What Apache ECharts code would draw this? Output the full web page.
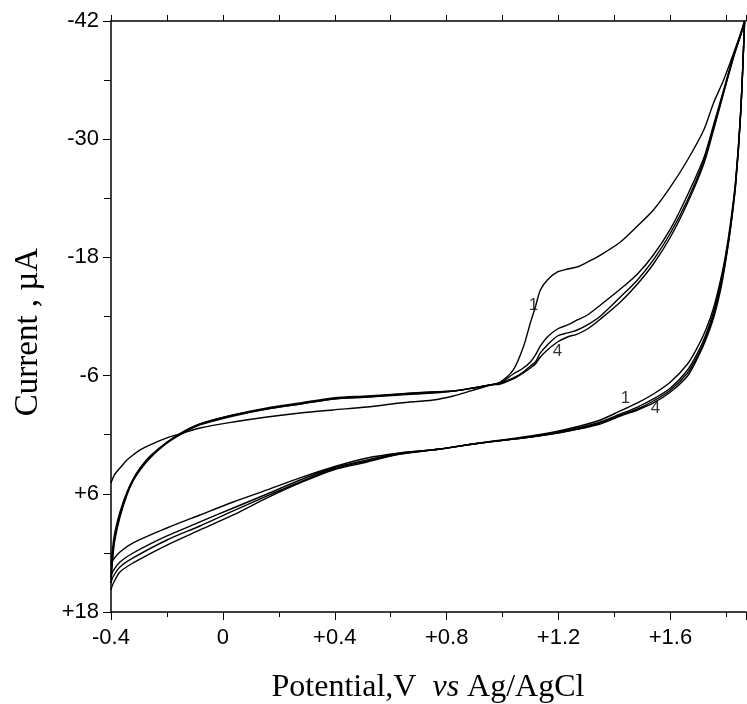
<!DOCTYPE html>
<html><head><meta charset="utf-8">
<script src="https://cdn.jsdelivr.net/npm/echarts@6/dist/echarts.min.js"></script>
<style>html,body{margin:0;padding:0;background:#fff}#c{width:747px;height:704px}</style>
</head><body><div id="c"></div>
<script>
// Potential (V vs Ag/AgCl) for the forward (upper) branches
const potUp = [-0.400,-0.393,-0.386,-0.368,-0.343,-0.321,-0.296,-0.260,-0.200,-0.142,-0.082,0.037,0.158,0.276,0.394,0.516,0.634,0.752,0.824,0.874,0.956,0.992,1.038,1.074,1.099,1.117,1.135,1.160,1.196,1.232,1.267,1.303,1.350,1.421,1.482,1.539,1.600,1.661,1.719,1.754,1.790,1.826,1.851,1.865];
// Current (µA) upper branches, cycles 1-4
const curUp1 = [4.90,4.39,3.99,3.38,2.57,2.06,1.55,1.04,0.33,-0.17,-0.68,-1.29,-1.80,-2.20,-2.51,-2.81,-3.22,-3.52,-3.93,-4.34,-5.05,-5.35,-6.57,-8.90,-11.34,-12.97,-14.69,-15.71,-16.52,-16.82,-17.03,-17.53,-18.24,-19.56,-21.19,-22.81,-25.15,-27.89,-30.93,-33.68,-36.01,-38.75,-40.78,-42.00];
const curUp2 = [13.23,11.20,9.88,7.85,5.82,4.50,3.38,2.16,0.74,-0.28,-1.09,-2.00,-2.71,-3.22,-3.73,-3.93,-4.13,-4.34,-4.44,-4.64,-5.05,-5.25,-6.16,-6.77,-7.38,-8.09,-9.01,-9.92,-10.73,-11.14,-11.65,-12.15,-13.17,-14.79,-16.32,-18.24,-20.89,-24.34,-28.09,-31.44,-35.00,-38.55,-40.58,-42.00];
const curUp3 = [14.45,11.91,10.38,8.15,6.02,4.60,3.48,2.26,0.84,-0.28,-1.09,-2.00,-2.61,-3.12,-3.63,-3.83,-4.13,-4.34,-4.44,-4.64,-5.05,-5.25,-5.76,-6.37,-6.98,-7.38,-8.30,-9.11,-10.02,-10.33,-10.63,-11.14,-12.05,-13.98,-15.71,-17.74,-20.48,-23.83,-27.79,-31.14,-34.79,-38.45,-40.58,-42.00];
const curUp4 = [15.05,12.31,10.69,8.35,6.12,4.70,3.58,2.36,0.84,-0.17,-0.99,-1.90,-2.61,-3.12,-3.63,-3.83,-4.03,-4.23,-4.44,-4.64,-5.05,-5.15,-5.66,-6.27,-6.77,-7.18,-7.89,-8.60,-9.41,-9.92,-10.22,-10.73,-11.75,-13.47,-15.30,-17.33,-20.07,-23.52,-27.48,-30.93,-34.69,-38.35,-40.58,-42.00];
// Potential for the reverse (lower) branches
const potDown = [1.865,1.851,1.833,1.815,1.797,1.779,1.754,1.726,1.697,1.661,1.600,1.539,1.482,1.421,1.339,1.217,1.099,0.920,0.777,0.634,0.516,0.394,0.276,0.158,0.037,-0.082,-0.200,-0.321,-0.368,-0.393,-0.400];
const curDown1 = [-42.00,-32.96,-25.86,-21.59,-18.24,-15.71,-12.86,-10.63,-8.90,-7.18,-5.35,-4.13,-3.22,-2.41,-1.39,-0.48,0.13,0.84,1.45,1.86,2.36,3.28,4.39,5.61,6.83,8.15,9.47,10.99,11.91,12.72,13.23];
const curDown2 = [-42.00,-32.76,-25.66,-21.29,-17.94,-15.30,-12.46,-10.12,-8.30,-6.57,-4.74,-3.63,-2.81,-2.10,-1.19,-0.38,0.23,0.84,1.45,1.86,2.57,3.38,4.60,6.02,7.44,8.86,10.28,12.01,12.92,13.84,14.45];
const curDown3 = [-42.00,-32.66,-25.45,-21.09,-17.74,-15.00,-12.15,-9.82,-7.99,-6.27,-4.54,-3.42,-2.61,-2.00,-1.09,-0.28,0.23,0.84,1.45,1.96,2.67,3.48,4.80,6.22,7.74,9.27,10.69,12.51,13.43,14.45,15.05];
const curDown4 = [-42.00,-32.56,-25.35,-20.99,-17.53,-14.69,-11.85,-9.62,-7.79,-5.96,-4.34,-3.22,-2.51,-1.90,-0.99,-0.28,0.23,0.84,1.45,1.96,2.77,3.58,4.90,6.42,8.15,9.67,11.20,13.02,13.94,15.16,15.77];
// Tick labels
const xTickValues = [-0.4, 0, 0.4, 0.8, 1.2, 1.6];
const xTickLabels = ['-0.4', '0', '+0.4', '+0.8', '+1.2', '+1.6'];
const yTickValues = [-42, -30, -18, -6, 6, 18];
const yTickLabels = ['-42', '-30', '-18', '-6', '+6', '+18'];
// Cycle labels
const noteText = ['1', '4', '1', '4'];
const notePot = [1.110, 1.196, 1.439, 1.546];
const noteCur = [-13.17, -8.50, -3.73, -2.71];

const upSets = [curUp1, curUp2, curUp3, curUp4];
const downSets = [curDown1, curDown2, curDown3, curDown4];

function lookup(vals, labels, v) {
  for (let i = 0; i < vals.length; i++) if (Math.abs(vals[i] - v) < 1e-6) return labels[i];
  return '';
}

const chart = echarts.init(document.getElementById('c'), null, {renderer: 'canvas'});
const sansFont = 'Liberation Sans, Arial, sans-serif';
const serifFont = 'Liberation Serif, Times New Roman, serif';
const black = '#000';

const cycleSeries = upSets.map((up, k) => ({
  type: 'line',
  name: 'cycle ' + (k + 1),
  xAxisIndex: 0,
  yAxisIndex: 0,
  symbol: 'none',
  smooth: 0.3,
  lineStyle: {color: black, width: 1.4},
  data: potUp.map((x, i) => [x, up[i]]).concat(potDown.map((x, i) => [x, downSets[k][i]]))
}));

const option = {
  animation: false,
  backgroundColor: '#fff',
  grid: {left: 111, right: 1, top: 21, bottom: 92},
  xAxis: [{
    type: 'value', position: 'bottom', min: -0.4, max: 1.87, interval: 0.4,
    axisLine: {show: true, onZero: false, lineStyle: {color: black, width: 1.5}},
    axisTick: {show: true, length: 8, lineStyle: {color: black, width: 1}},
    minorTick: {show: true, splitNumber: 2, length: 5, lineStyle: {color: black, width: 1}},
    splitLine: {show: false},
    axisLabel: {
      margin: 15, color: black, fontSize: 22, fontFamily: sansFont,
      showMaxLabel: false,
      formatter: v => lookup(xTickValues, xTickLabels, v)
    }
  }, {
    type: 'value', position: 'top', min: -0.4, max: 1.87, interval: 0.2,
    axisLine: {show: true, onZero: false, lineStyle: {color: black, width: 1.5}},
    axisTick: {show: true, length: 6, lineStyle: {color: black, width: 1}},
    splitLine: {show: false},
    axisLabel: {show: false}
  }],
  yAxis: [{
    type: 'value', inverse: true, min: -42, max: 18, interval: 12,
    axisLine: {show: true, onZero: false, lineStyle: {color: black, width: 1.5}},
    axisTick: {show: true, length: 8, lineStyle: {color: black, width: 1}},
    minorTick: {show: true, splitNumber: 2, length: 7, lineStyle: {color: black, width: 1}},
    splitLine: {show: false},
    axisLabel: {
      margin: 12, color: black, fontSize: 22, fontFamily: sansFont,
      formatter: v => lookup(yTickValues, yTickLabels, v)
    }
  }],
  series: cycleSeries.concat([{
    type: 'scatter',
    name: 'labels',
    symbolSize: 0,
    silent: true,
    label: {
      show: true, position: 'inside', color: black, fontSize: 17, fontFamily: sansFont,
      formatter: p => p.value[2]
    },
    data: notePot.map((x, i) => [x, noteCur[i], noteText[i]])
  }]),
  graphic: [{
    type: 'text',
    x: 428, y: 688,
    style: {
      text: '{a|Potential,V  }{b|vs}{a| Ag/AgCl}',
      align: 'center', verticalAlign: 'middle',
      fill: black,
      rich: {
        a: {fontSize: 32, fontFamily: serifFont, fill: black},
        b: {fontSize: 32, fontFamily: serifFont, fontStyle: 'italic', fill: black}
      }
    }
  }, {
    type: 'text',
    x: 28, y: 332,
    rotation: Math.PI / 2,
    style: {
      text: 'Current , µA',
      align: 'center', verticalAlign: 'middle',
      fill: black,
      font: '33px ' + serifFont
    }
  }]
};
chart.setOption(option);
</script></body></html>
